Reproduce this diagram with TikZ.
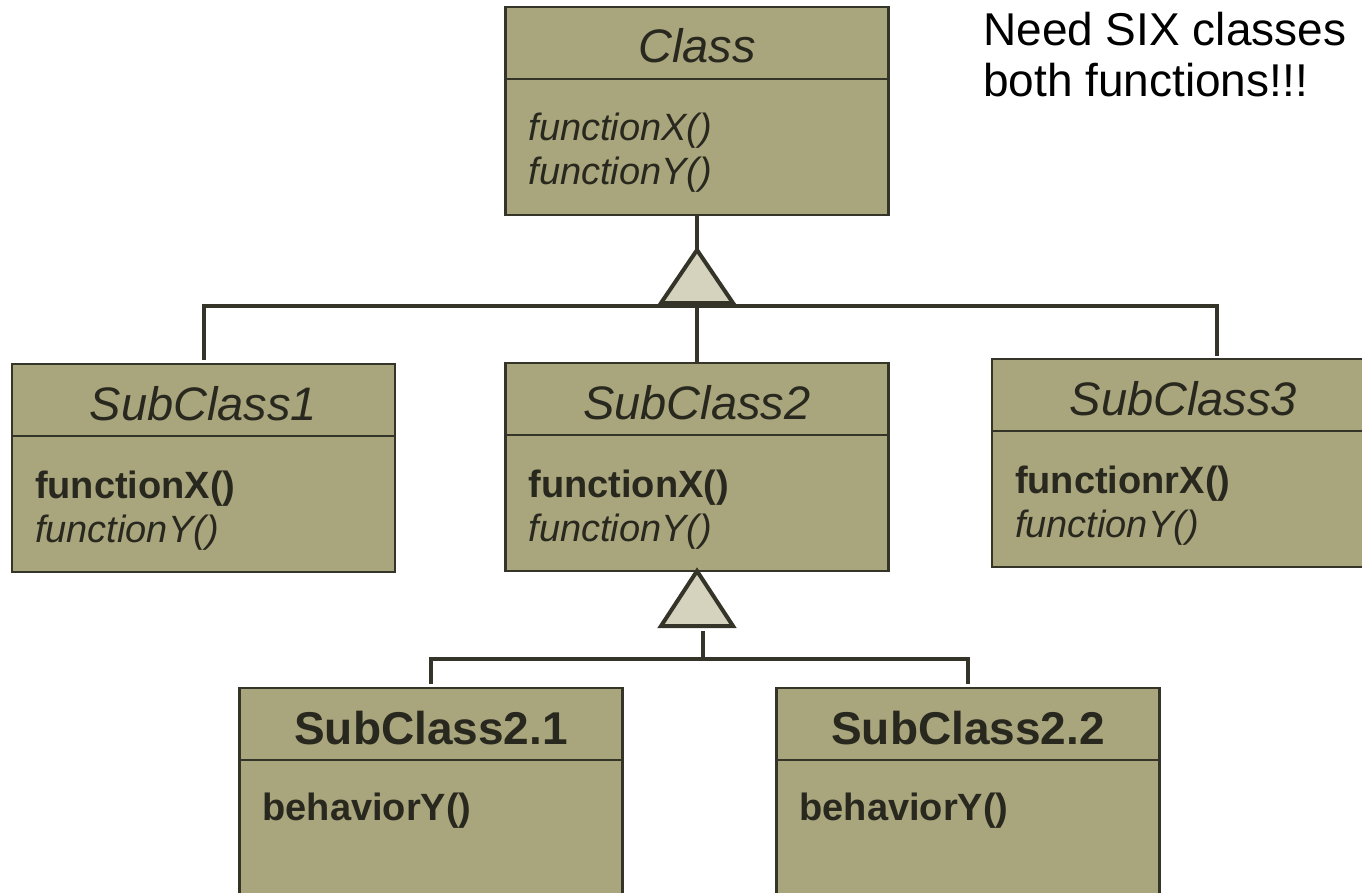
\documentclass[tikz,border=0pt]{standalone}
\usepackage{fontspec}
\setmainfont{Liberation Sans}
\usetikzlibrary{positioning, calc}
\definecolor{boxfill}{RGB}{169,165,125}
\definecolor{boxline}{RGB}{52,52,40}
\definecolor{trifill}{RGB}{213,211,190}
\definecolor{ink}{RGB}{40,40,30}
\tikzstyle{conn} = [line width=4pt, draw=boxline]
\tikzstyle{tri} = [line width=4pt, draw=boxline, fill=trifill, line join=miter]

\begin{document}
\begin{tikzpicture}[x=1pt, y=-1pt]
  % Define class box styles
  \tikzstyle{head} = [rectangle, draw=boxline, line width=2.5pt, fill=boxfill, text=ink, minimum width=383pt, minimum height=72pt, inner sep=0pt, outer sep=0pt, text height=40pt, text depth=0pt, anchor=north]
  \tikzstyle{ihead} = [head, font=\fontsize{47}{50}\selectfont\itshape]
  \tikzstyle{bhead} = [head, font=\fontsize{46}{50}\selectfont\bfseries]
  \tikzstyle{ops} = [rectangle, draw=boxline, line width=2.5pt, fill=boxfill, text=ink, text width=337pt, inner xsep=23pt, inner ysep=0pt, outer sep=0pt, align=left, font=\fontsize{38}{44}\selectfont, text height=62pt, text depth=74pt, minimum height=136pt, below=0pt of #1]
  \tikzstyle{note} = [anchor=north west, inner sep=0pt, align=left, font=\fontsize{46}{51}\selectfont]

  \useasboundingbox (0,0) rectangle (1362,893);
  \clip (0,0) rectangle (1362,893);

  % Base class
  \node [ihead] (cls) at (697,7) {Class};
  \node [ops=cls] (clsops) {\textit{functionX()}\\\textit{functionY()}};

  % First level subclasses
  \node [ihead] (sub1) at (203.5,364) {SubClass1};
  \node [ops=sub1] (sub1ops) {\textbf{functionX()}\\\textit{functionY()}};
  \node [ihead] (sub2) at (697,363) {SubClass2};
  \node [ops=sub2] (sub2ops) {\textbf{functionX()}\\\textit{functionY()}};
  \node [ihead] (sub3) at (1183.5,359) {SubClass3};
  \node [ops=sub3] (sub3ops) {\textbf{functionrX()}\\\textit{functionY()}};

  % Second level subclasses
  \node [bhead] (sub21) at (431,688) {SubClass2.1};
  \node [ops=sub21, text height=60pt, text depth=140pt, minimum height=200pt] (sub21ops) {\textbf{behaviorY()}};
  \node [bhead] (sub22) at (968,688) {SubClass2.2};
  \node [ops=sub22, text height=60pt, text depth=140pt, minimum height=200pt] (sub22ops) {\textbf{behaviorY()}};

  % Inheritance from Class
  \coordinate (apex1) at (697,250);
  \coordinate (bus1) at (697,306);
  \draw [conn] (clsops.south) -- (apex1);
  \draw [conn] ($(apex1)+(0,53)$) -- (sub2.north);
  \draw [conn, shorten <=4pt, shorten >=3pt] (sub1.north) |- (bus1) -| ([xshift=33.5pt]sub3.north);
  \draw [tri] (apex1) -- ++(-36,53) -- ++(72,0) -- cycle;

  % Inheritance from SubClass2
  \coordinate (stem2) at (703,631);
  \coordinate (bus2) at (703,659);
  \draw [conn] (stem2) -- (bus2);
  \draw [conn, shorten <=4pt, shorten >=4pt] (sub21.north) |- (bus2) -| (sub22.north);
  \draw [tri] (sub2ops.south) -- ++(-36,55) -- ++(72,0) -- cycle;

  % Remark
  \node [note] (remark) at (983,12) {Need SIX classes\\both functions!!!};
\end{tikzpicture}
\end{document}
